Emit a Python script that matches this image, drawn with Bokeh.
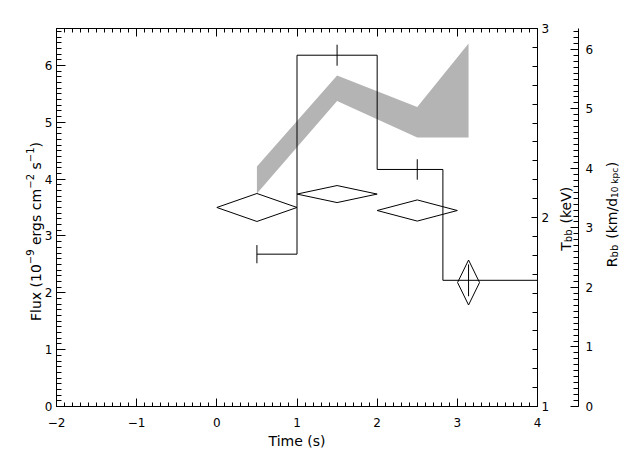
from math import pi
import numpy as np
from bokeh.plotting import figure
from bokeh.models import (Range1d, LinearAxis, SingleIntervalTicker, Label,
                          PrintfTickFormatter)
from bokeh.embed import file_html
from bokeh.resources import INLINE

# ---------------- data ----------------
time_mid = [0.5, 1.5, 2.5, 3.14]          # s, bin centres
time_half = [0.5, 0.5, 0.5, 0.137]        # s, half bin widths (diamonds)
flux = [2.68, 6.18, 4.17, 2.22]           # 1e-9 erg cm^-2 s^-1
flux_err = [0.16, 0.185, 0.18, 0.28]
step_edges = [0.5, 1.0, 2.0, 2.82, 4.0]   # histogram step edges (s)
kT = [2.053, 2.124, 2.037, 1.656]         # keV
kT_err = [0.074, 0.045, 0.056, 0.119]
radius_lo = [3.58, 5.13, 4.52, 4.52]      # km / d_10kpc
radius_hi = [4.03, 5.56, 5.03, 6.10]
time_lim = (-2, 4)
flux_lim = (0, 6.65)
kT_lim = (1, 3)
radius_lim = (0, 6.35)
x_tick_overrides = {-2: "\u22122", -1: "\u22121"}

# ---------------- geometry (pixels) ----------------
FONT = "DejaVu Sans"
W, H = 638, 454
B_LEFT, B_RIGHT, B_TOP, B_BOTTOM = 14, 18, 18, 4
BOX_L, BOX_R, BOX_T, BOX_B = 56, 537, 28, 406     # plot box on the page
FR_L, FR_R, FR_T, FR_B = B_LEFT, W - B_RIGHT, B_TOP, H - B_BOTTOM

sx = (BOX_R - BOX_L) / (time_lim[1] - time_lim[0])


def xdata(px):
    return time_lim[0] + (px - BOX_L) / sx


def yrange(lim):
    s = (BOX_B - BOX_T) / (lim[1] - lim[0])
    return Range1d(lim[0] - (FR_B - BOX_B) / s, lim[1] + (BOX_T - FR_T) / s)


def ydata(lim, py):
    s = (BOX_B - BOX_T) / (lim[1] - lim[0])
    return lim[0] + (BOX_B - py) / s


p = figure(width=W, height=H,
           x_range=Range1d(xdata(FR_L), xdata(FR_R)), y_range=yrange(flux_lim),
           x_axis_location=None, y_axis_location=None,
           toolbar_location=None, output_backend="svg",
           min_border_left=B_LEFT, min_border_right=B_RIGHT,
           min_border_top=B_TOP, min_border_bottom=B_BOTTOM,
           background_fill_color="white", border_fill_color="white",
           outline_line_color=None)
p.grid.visible = False
p.extra_y_ranges = {"T": yrange(kT_lim), "R": yrange(radius_lim)}


def axis(side, fixed, bounds, range_name=None, tin=0, tmin=0, labels=True,
         standoff=0, line=True, overrides=None):
    kw = {}
    if range_name is not None:
        kw["y_range_name"] = range_name
    ax = LinearAxis(ticker=SingleIntervalTicker(interval=1, num_minor_ticks=10),
                    fixed_location=fixed, bounds=bounds, **kw)
    ax.major_tick_in = tin
    ax.major_tick_out = 0
    ax.minor_tick_in = tmin
    ax.minor_tick_out = 0
    ax.axis_line_color = "black" if line else None
    ax.major_tick_line_color = "black" if tin else None
    ax.minor_tick_line_color = "black" if tmin else None
    ax.major_label_standoff = standoff
    if labels:
        ax.major_label_text_font = FONT
        ax.major_label_text_font_size = "12px"
        ax.major_label_text_color = "black"
        if overrides:
            ax.major_label_overrides = overrides
    else:
        ax.formatter = PrintfTickFormatter(format="")
        ax.major_label_text_font_size = "1px"
    p.add_layout(ax, side)
    return ax


# time axis: ticks along the box bottom, labels below it, ticks along the top
axis("below", flux_lim[0], time_lim, tin=8, tmin=4, labels=False)
axis("above", ydata(flux_lim, 426.5), time_lim, labels=True, line=False,
     overrides=x_tick_overrides)
axis("above", flux_lim[1], time_lim, tin=8, tmin=4, labels=False)
# flux axis (left side of the box)
axis("left", time_lim[0], flux_lim, tin=9, tmin=5, standoff=4)
# kT axis (right side of the box)
axis("right", time_lim[1], kT_lim, range_name="T", tin=6, tmin=5, labels=False)
axis("right", xdata(BOX_R + 4), kT_lim, range_name="T", line=False)
# radius axis (separate, further right)
axis("right", xdata(578), radius_lim, range_name="R", tin=8, tmin=5, labels=False)
axis("right", xdata(585), radius_lim, range_name="R", line=False)

# ---------------- data marks ----------------
p.varea(x=time_mid, y1=radius_lo, y2=radius_hi, fill_color="#b4b4b4",
        y_range_name="R")

tm = np.array(time_mid)
th = np.array(time_half)
kt = np.array(kT)
ke = np.array(kT_err)
dxs = [[a - h, a, a + h, a, a - h] for a, h in zip(tm, th)]
dys = [[k, k + e, k, k - e, k] for k, e in zip(kt, ke)]
p.patches(xs=dxs, ys=dys, fill_color=None, line_color="black", line_width=1,
          y_range_name="T")

p.step(x=step_edges, y=flux + [flux[-1]], mode="after", line_color="black",
       line_width=1)
fl = np.array(flux)
fe = np.array(flux_err)
p.segment(x0=tm, y0=fl - fe, x1=tm, y1=fl + fe, line_color="black",
          line_width=1)

# ---------------- axis titles (rotated, with sub/superscripts) ----------------
WID = {' ': 0.318, '(': 0.390, ')': 0.390, '/': 0.337, '\u2212': 0.838, '-': 0.361,
       'F': 0.575, 'R': 0.695, 'T': 0.611, 'V': 0.684, 'b': 0.635, 'c': 0.550,
       'd': 0.635, 'e': 0.615, 'g': 0.635, 'k': 0.579, 'l': 0.278, 'm': 0.974,
       'p': 0.635, 'r': 0.411, 's': 0.521, 'u': 0.634, 'x': 0.592, 'i': 0.278}


def tw(text, size):
    return sum(WID.get(c, 0.636) for c in text) * size


def rot_label(parts, x, y, base):
    """parts: (text, font size px, baseline shift px, extra gap after px)"""
    total = sum(tw(t, s) + g for t, s, _, g in parts)
    cum = -total / 2.0
    for text, size, shift, gap in parts:
        lead = len(text) - len(text.lstrip(' '))
        p.add_layout(Label(x=x, y=y, x_offset=base - shift,
                           y_offset=cum + tw(' ' * lead, size),
                           text=text.strip(' '), angle=pi / 2,
                           text_align="left", text_baseline="alphabetic",
                           text_font=FONT, text_font_size=f"{size}px",
                           text_color="black"))
        cum += tw(text, size) + gap


rot_label([("Flux (10", 14, 0, 0), ("\u22129", 10, 6, 0), (" ergs cm", 14, 0, 0),
           ("\u22122", 10, 6, 0), (" s", 14, 0, 0), ("\u22121", 10, 6, 0),
           (")", 14, 0, 0)],
          time_lim[0], ydata(flux_lim, 231), -21)
rot_label([("T", 14, 0, 0), ("bb", 10, -3, 1.5), (" (keV)", 14, 0, 0)],
          time_lim[1], ydata(flux_lim, 218), 28)
rot_label([("R", 14, 0, 0), ("bb", 10, -3, 1.5), (" (km/d", 14, 0, 0),
           ("10 kpc", 9, -3, 0.5), (")", 14, 0, 0)],
          time_lim[1], ydata(flux_lim, 214), 74)

p.add_layout(Label(x=1, y=ydata(flux_lim, 440), text="Time (s)",
                   text_align="center", text_baseline="middle", text_font=FONT,
                   text_font_size="14px", text_color="black"))

open("out.html", "w").write(file_html(p, INLINE, title="Flux, kT and radius"))
